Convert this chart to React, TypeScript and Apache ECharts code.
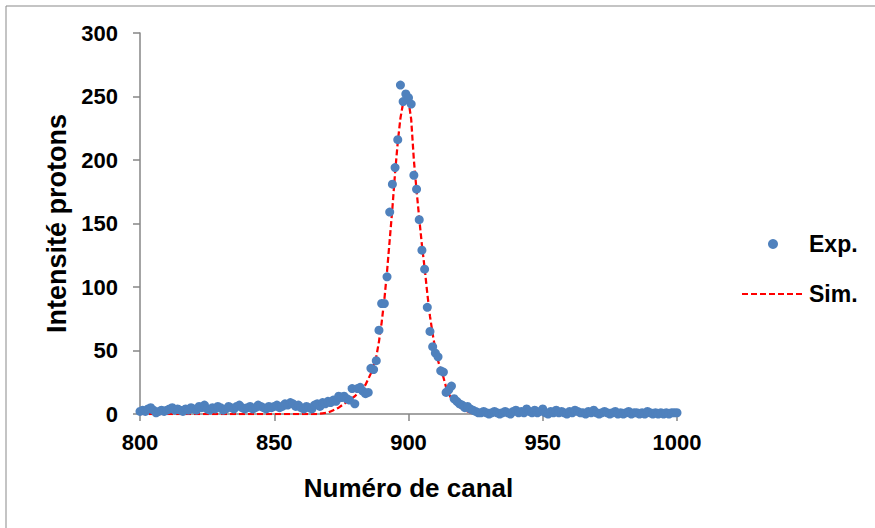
import React, { useEffect, useRef } from "react";
import * as echarts from "echarts";

const expStart = 800;
const expValues: number[] = [
  // 800-819
  2, 3, 2, 4, 5, 3, 1, 2, 3, 2, 3, 4, 5, 3, 4, 3, 2, 4, 3, 5,
  // 820-839
  4, 3, 6, 5, 7, 4, 3, 5, 4, 6, 5, 3, 4, 6, 5, 4, 6, 7, 5, 4,
  // 840-859
  5, 6, 4, 5, 7, 6, 5, 4, 6, 5, 6, 7, 5, 6, 8, 7, 9, 8, 6, 7,
  // 860-879
  5, 4, 6, 5, 4, 7, 8, 6, 9, 8, 10, 9, 11, 10, 14, 13, 14, 12, 11, 20,
  // 880-899
  8, 20, 21, 18, 16, 17, 36, 35, 42, 66, 87, 87, 108, 159, 181, 194, 216, 259, 246, 252,
  // 900-919
  249, 244, 188, 177, 153, 129, 114, 84, 65, 53, 48, 45, 34, 33, 17, 19, 22, 12, 10, 8,
  // 920-939
  7, 5, 6, 4, 3, 2, 1, 1, 2, 1, 0, 1, 2, 1, 0, 1, 2, 1, 0, 2,
  // 940-959
  3, 1, 2, 1, 4, 2, 1, 3, 1, 2, 4, 1, 0, 2, 1, 3, 1, 2, 1, 0,
  // 960-979
  2, 1, 3, 2, 1, 1, 0, 2, 1, 3, 1, 0, 1, 2, 1, 0, 1, 2, 0, 1,
  // 980-1000
  0, 1, 2, 0, 1, 1, 0, 1, 0, 2, 1, 0, 1, 0, 1, 0, 1, 0, 1, 1, 1,
];

// Simulated curve: [channel, intensity]
const simPoints: [number, number][] = [
  [800, 0], [866, 0], [868, 0.5], [870, 1], [872, 3], [874, 5], [876, 8], [878, 11],
  [880, 14], [882, 18], [884, 23], [886, 32], [888, 45], [889, 57], [890, 72], [891, 90],
  [892, 112], [893, 137], [894, 162], [895, 190], [896, 214], [897, 233], [898, 245],
  [899, 250], [900, 247], [901, 232], [902, 200], [903, 176], [904, 154], [905, 133],
  [906, 115], [907, 95], [908, 77], [909, 63], [910, 51], [911, 42], [912, 35], [913, 29],
  [914, 21], [915, 16], [916, 12], [918, 7], [920, 4], [922, 2], [924, 0.5], [926, 0],
  [1000, 0],
];

const xTicks = { min: 800, max: 1000, interval: 50 };
const yTicks = { min: 0, max: 300, interval: 50 };

const xTitle = "Numéro de canal";
const yTitle = "Intensité protons";
const seriesNames = ["Exp.", "Sim."];

export default function App() {
  const ref = useRef<HTMLDivElement>(null);
  useEffect(() => {
    document.body.style.margin = "0";
    if (!ref.current) return;
    const chart = echarts.init(ref.current, null, { renderer: "svg" });
    const expData = expValues.map((v, i) => [expStart + i, v]);
    const font = "'Liberation Sans', Arial, sans-serif";
    const axisColor = "#868686";
    chart.setOption({
      animation: false,
      backgroundColor: "#ffffff",
      textStyle: { fontFamily: font },
      grid: { left: 140, right: 198, top: 33, bottom: 114, containLabel: false },
      graphic: [
        {
          type: "rect",
          shape: { x: 6, y: 6, width: 900, height: 600 },
          style: { fill: "none", stroke: "#898989", lineWidth: 1 },
          silent: true,
          z: -10,
        },
      ],
      legend: {
        orient: "vertical",
        left: 741,
        top: 232,
        padding: 0,
        itemWidth: 62,
        itemHeight: 10,
        itemGap: 26,
        textStyle: {
          fontFamily: font,
          fontSize: 23,
          fontWeight: "bold",
          color: "#000",
          lineHeight: 24,
        },
        data: [
          { name: seriesNames[0], icon: "circle" },
          { name: seriesNames[1], itemStyle: { opacity: 0 } },
        ],
      },
      xAxis: {
        type: "value",
        min: xTicks.min,
        max: xTicks.max,
        interval: xTicks.interval,
        name: xTitle,
        nameLocation: "middle",
        nameGap: 61,
        nameTextStyle: { fontFamily: font, fontSize: 26, fontWeight: "bold", color: "#000" },
        axisLine: { show: true, onZero: false, lineStyle: { color: axisColor, width: 1.5 } },
        axisTick: { show: true, length: 7, lineStyle: { color: axisColor, width: 1.5 } },
        axisLabel: {
          margin: 17,
          fontFamily: font,
          fontSize: 22,
          fontWeight: "bold",
          color: "#000",
          formatter: (v: number) => String(v),
        },
        splitLine: { show: false },
      },
      yAxis: {
        type: "value",
        min: yTicks.min,
        max: yTicks.max,
        interval: yTicks.interval,
        name: yTitle,
        nameLocation: "middle",
        nameGap: 66,
        nameRotate: 90,
        nameTextStyle: { fontFamily: font, fontSize: 27, fontWeight: "bold", color: "#000" },
        axisLine: { show: true, lineStyle: { color: axisColor, width: 1.5 } },
        axisTick: { show: true, length: 7, lineStyle: { color: axisColor, width: 1.5 } },
        axisLabel: {
          margin: 22,
          fontFamily: font,
          fontSize: 22,
          fontWeight: "bold",
          color: "#000",
          formatter: (v: number) => String(v),
        },
        splitLine: { show: false },
      },
      series: [
        {
          name: seriesNames[1],
          type: "line",
          data: simPoints,
          showSymbol: false,
          symbol: "none",
          z: 2,
          lineStyle: { color: "#ff0000", width: 2.25, type: [6, 3] },
          itemStyle: { color: "#ff0000" },
        },
        {
          name: seriesNames[0],
          type: "scatter",
          data: expData,
          symbol: "circle",
          symbolSize: 9,
          z: 3,
          itemStyle: { color: "#4f81bd", opacity: 1 },
        },
      ],
    });
    return () => chart.dispose();
  }, []);
  return <div ref={ref} style={{ width: 875, height: 528 }} />;
}
